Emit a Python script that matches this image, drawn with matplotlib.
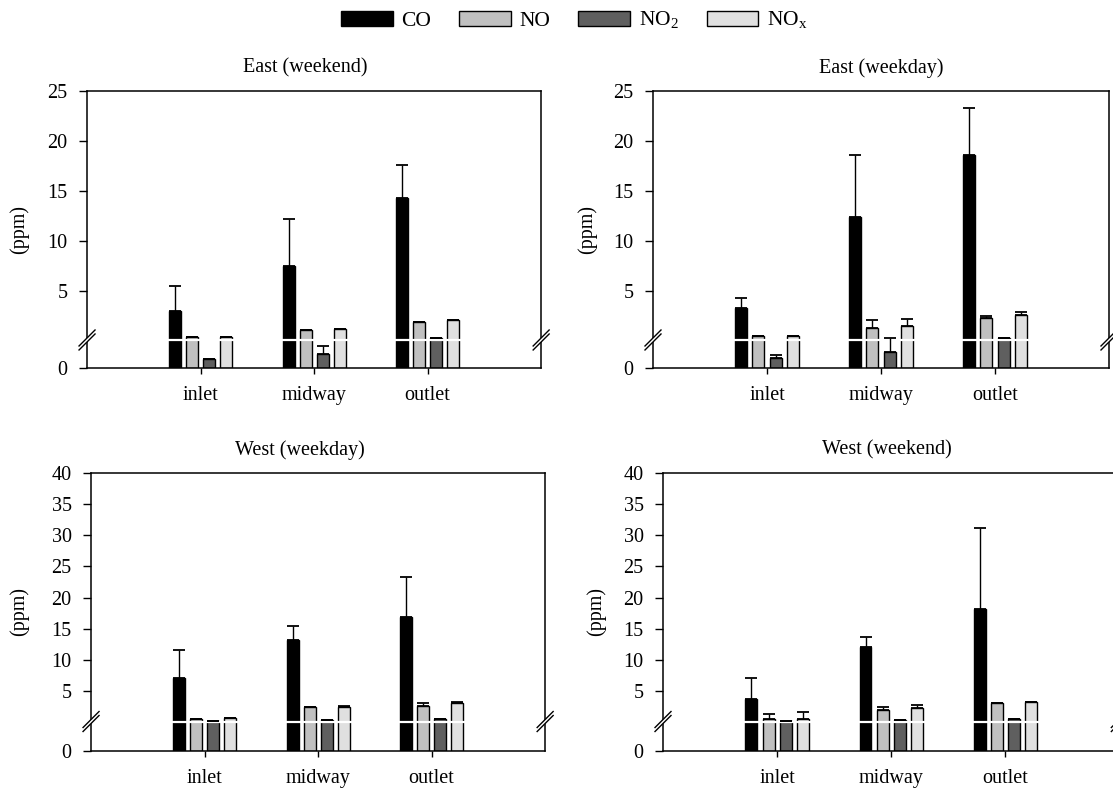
import numpy as np
import matplotlib
matplotlib.use("Agg")
import matplotlib.pyplot as plt
from matplotlib.patches import Polygon

plt.rcParams['font.family'] = ['Liberation Serif', 'DejaVu Serif']
plt.rcParams['mathtext.fontset'] = 'custom'
plt.rcParams['mathtext.rm'] = 'Liberation Serif'

sites = ['inlet', 'midway', 'outlet']
gases = ['CO', 'NO', r'NO$_2$', r'NO$_{\mathrm{x}}$']
colors = ['#000000', '#c0c0c0', '#5f5f5f', '#e0e0e0']

# rows: CO, NO, NO2, NOx ; columns: inlet, midway, outlet (ppm)
east_weekend_mean = [[3.0, 7.5, 14.3], [0.43, 1.1, 1.9], [0.032, 0.05, 0.3], [0.43, 1.2, 2.1]]
east_weekend_err = [[2.5, 4.7, 3.3], [0, 0, 0], [0, 0.029, 0], [0, 0, 0]]

east_weekday_mean = [[3.3, 12.4, 18.6], [0.5, 1.3, 2.3], [0.036, 0.057, 0.3], [0.53, 1.5, 2.6]]
east_weekday_err = [[1.0, 6.2, 4.7], [0, 0.8, 0.2], [0.01, 0.243, 0], [0, 0.7, 0.3]]

west_weekday_mean = [[7.1, 13.2, 16.9], [0.58, 2.35, 2.67], [0.26, 0.42, 0.58], [0.74, 2.35, 3.15]]
west_weekday_err = [[4.5, 2.2, 6.4], [0, 0.15, 0.33], [0, 0, 0], [0, 0.32, 0.15]]

west_weekend_mean = [[3.7, 12.1, 18.2], [0.58, 2.0, 3.0], [0.26, 0.42, 0.53], [0.58, 2.2, 3.26]]
west_weekend_err = [[3.4, 1.6, 12.9], [0.8, 0.5, 0], [0, 0, 0], [1.1, 0.6, 0]]

BREAK = 0.1


def make_scale(low_height):
    """Broken axis: 0..BREAK squeezed into low_height units, linear above."""
    def fwd(y):
        y = np.asarray(y, dtype=float)
        return np.where(y < BREAK, y / BREAK * low_height, low_height + (y - BREAK))

    def inv(t):
        t = np.asarray(t, dtype=float)
        return np.where(t < low_height, t / low_height * BREAK, BREAK + (t - low_height))
    return fwd, inv


def draw_break(ax, frac):
    fig = ax.figure
    pos = ax.get_position()
    w = pos.width * fig.get_figwidth() * fig.dpi
    h = pos.height * fig.get_figheight() * fig.dpi
    dx, dy, gap = 8 / w, 8 / h, 4 / h
    for x0 in (0, 1):
        poly = Polygon([(x0 - dx, frac - dy - gap / 2), (x0 + dx, frac + dy - gap / 2),
                        (x0 + dx, frac + dy + gap / 2), (x0 - dx, frac - dy + gap / 2)],
                       closed=True, transform=ax.transAxes, facecolor='white',
                       edgecolor='none', clip_on=False, zorder=5)
        ax.add_patch(poly)
        for off in (-gap / 2, gap / 2):
            ax.plot([x0 - dx, x0 + dx], [frac - dy + off, frac + dy + off], color='black',
                    lw=1, transform=ax.transAxes, clip_on=False, zorder=6)


def plot_panel(ax, title, title_x, means, errs, top, low_height, ylabel_x):
    fwd, inv = make_scale(low_height)
    ax.set_yscale('function', functions=(fwd, inv))
    x = np.arange(len(sites))
    width = 0.105
    step = 0.15
    bars = []
    for i, gas in enumerate(gases):
        xpos = x + (i - 1.5) * step
        b = ax.bar(xpos, means[i], width, color=colors[i], edgecolor='black',
                   linewidth=1, label=gas, zorder=1)
        bars.append(b)
        ax.errorbar(xpos, means[i], yerr=[np.zeros(len(sites)), errs[i]], fmt='none',
                    ecolor='black', elinewidth=1, capsize=4, capthick=1.3, zorder=2)
    ax.axhline(BREAK, color='white', lw=1.6, zorder=1.5)
    ax.set_xlim(-1, 3)
    ax.set_ylim(0, top)
    ax.set_yticks(np.arange(0, top + 1, 5))
    ax.set_xticks(x)
    ax.set_xticklabels(sites)
    ax.tick_params(axis='y', direction='out', length=6, width=1, labelsize=14.5, pad=8)
    ax.tick_params(axis='x', direction='out', length=4, width=1, labelsize=14.5, pad=9)
    for sp in ax.spines.values():
        sp.set_linewidth(1.1)
    ax.set_title(title, fontsize=14.5, x=title_x, pad=13)
    ax.set_ylabel('(ppm)', fontsize=14.5)
    ax.yaxis.set_label_coords(ylabel_x, 0.5)
    frac = low_height / float(fwd(top))
    draw_break(ax, frac)
    return bars


fig = plt.figure(figsize=(11.13, 7.9), dpi=100)

ax1 = fig.add_axes([0.0782, 0.5342, 0.408, 0.3506])
ax2 = fig.add_axes([0.5867, 0.5342, 0.4097, 0.3506])
ax3 = fig.add_axes([0.0818, 0.0494, 0.408, 0.3519])
ax4 = fig.add_axes([0.5957, 0.0494, 0.410, 0.3519])

bars = plot_panel(ax1, 'East (weekend)', 0.48, east_weekend_mean, east_weekend_err, 25, 2.8, -0.128)
plot_panel(ax2, 'East (weekday)', 0.5, east_weekday_mean, east_weekday_err, 25, 2.8, -0.123)
plot_panel(ax3, 'West (weekday)', 0.46, west_weekday_mean, west_weekday_err, 40, 4.73, -0.137)
plot_panel(ax4, 'West (weekend)', 0.49, west_weekend_mean, west_weekend_err, 40, 4.73, -0.125)

fig.legend(bars, gases, loc='upper center', bbox_to_anchor=(0.516, 1.012), ncol=4,
           frameon=False, fontsize=15.5, handlelength=2.4, handleheight=0.7,
           handletextpad=0.4, columnspacing=1.3)

fig.savefig('out.png', dpi=100)
